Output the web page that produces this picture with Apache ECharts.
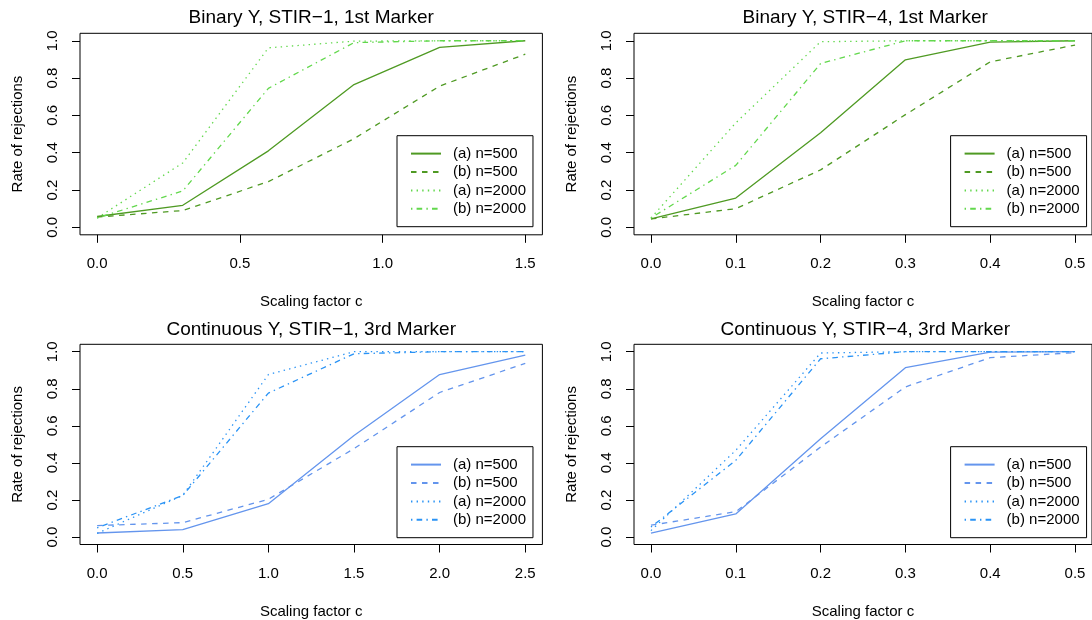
<!DOCTYPE html>
<html>
<head>
<meta charset="utf-8">
<title>Rate of rejections vs scaling factor</title>
<script src="https://cdn.jsdelivr.net/npm/echarts@6/dist/echarts.min.js"></script>
<style>
  html, body { margin: 0; padding: 0; background: #fff; }
  #chart { width: 1092px; height: 620px; }
</style>
</head>
<body>
<div id="chart"></div>
<script>
// ---- data ----
const panelTitles = [
  'Binary Y, STIR\u22121, 1st Marker',
  'Binary Y, STIR\u22124, 1st Marker',
  'Continuous Y, STIR\u22121, 3rd Marker',
  'Continuous Y, STIR\u22124, 3rd Marker'
];
const seriesLabels = ['(a) n=500', '(b) n=500', '(a) n=2000', '(b) n=2000'];

// scaling factor values (x) per panel
const xBinaryStir1 = [0, 0.3, 0.6, 0.9, 1.2, 1.5];
const xBinaryStir4 = [0, 0.1, 0.2, 0.3, 0.4, 0.5];
const xContStir1 = [0, 0.5, 1.0, 1.5, 2.0, 2.5];
const xContStir4 = [0, 0.1, 0.2, 0.3, 0.4, 0.5];

// tick values
const xTicksBinaryStir1 = [0, 0.5, 1.0, 1.5];
const xTicksStir4 = [0, 0.1, 0.2, 0.3, 0.4, 0.5];
const xTicksContStir1 = [0, 0.5, 1.0, 1.5, 2.0, 2.5];
const yTicks = [0, 0.2, 0.4, 0.6, 0.8, 1.0];

// rejection rates
const binStir1A500  = [0.058, 0.118, 0.41, 0.765, 0.965, 1.0];
const binStir1B500  = [0.055, 0.09, 0.245, 0.475, 0.757, 0.928];
const binStir1A2000 = [0.05, 0.345, 0.962, 0.998, 1.0, 1.0];
const binStir1B2000 = [0.05, 0.195, 0.745, 0.99, 1.0, 1.0];

const binStir4A500  = [0.045, 0.157, 0.507, 0.898, 0.993, 1.0];
const binStir4B500  = [0.045, 0.1, 0.308, 0.604, 0.887, 0.977];
const binStir4A2000 = [0.05, 0.56, 0.995, 1.0, 1.0, 1.0];
const binStir4B2000 = [0.05, 0.332, 0.878, 1.0, 1.0, 1.0];

const contStir1A500  = [0.022, 0.04, 0.18, 0.548, 0.877, 0.982];
const contStir1B500  = [0.062, 0.078, 0.204, 0.477, 0.78, 0.937];
const contStir1A2000 = [0.02, 0.225, 0.877, 1.0, 1.0, 1.0];
const contStir1B2000 = [0.05, 0.224, 0.777, 0.989, 1.0, 1.0];

const contStir4A500  = [0.021, 0.125, 0.53, 0.914, 0.998, 1.0];
const contStir4B500  = [0.064, 0.137, 0.486, 0.81, 0.968, 0.995];
const contStir4A2000 = [0.035, 0.468, 0.993, 1.0, 1.0, 1.0];
const contStir4B2000 = [0.054, 0.414, 0.962, 1.0, 1.0, 1.0];

// ---- layout and styles ----
const FONT = '"Liberation Sans", Arial, Helvetica, sans-serif';
const greenDark = '#4f9a23', greenLight = '#62d84c';
const blueDark = '#6495ed', blueLight = '#2a93f5';

const panels = [
  { key: 'p1', x: xBinaryStir1, xTicks: xTicksBinaryStir1, ys: [binStir1A500, binStir1B500, binStir1A2000, binStir1B2000],
    colors: [greenDark, greenDark, greenLight, greenLight], grid: { left: 80, top: 33.3 }, legend: { left: 397, top: 135.7 } },
  { key: 'p2', x: xBinaryStir4, xTicks: xTicksStir4, ys: [binStir4A500, binStir4B500, binStir4A2000, binStir4B2000],
    colors: [greenDark, greenDark, greenLight, greenLight], grid: { left: 634, top: 33.3 }, legend: { left: 950.6, top: 135.7 } },
  { key: 'p3', x: xContStir1, xTicks: xTicksContStir1, ys: [contStir1A500, contStir1B500, contStir1A2000, contStir1B2000],
    colors: [blueDark, blueDark, blueLight, blueLight], grid: { left: 80, top: 344.3 }, legend: { left: 397, top: 446.7 } },
  { key: 'p4', x: xContStir4, xTicks: xTicksStir4, ys: [contStir4A500, contStir4B500, contStir4A2000, contStir4B2000],
    colors: [blueDark, blueDark, blueLight, blueLight], grid: { left: 634, top: 344.3 }, legend: { left: 950.6, top: 446.7 } }
];
const GRID_W = 462.4, GRID_H = 201.5;
const dashes = ['solid', [5.5, 5.5], [1.4, 4.2], [1.4, 4.2, 5.6, 4.2]];

const grids = [], xAxes = [], yAxes = [], series = [], legends = [], titles = [];

panels.forEach((p, i) => {
  grids.push({
    left: p.grid.left, top: p.grid.top, width: GRID_W, height: GRID_H,
    show: true, borderColor: '#000', borderWidth: 1, backgroundColor: 'transparent'
  });
  const xMin = Math.min(...p.x), xMax = Math.max(...p.x);
  const pad = (xMax - xMin) * 0.04;
  xAxes.push({
    type: 'value', gridIndex: i, min: xMin - pad, max: xMax + pad,
    name: 'Scaling factor c', nameLocation: 'middle', nameGap: 59.5,
    nameTextStyle: { fontFamily: FONT, fontSize: 15, color: '#000' },
    axisLine: { show: false, onZero: false },
    axisTick: { show: true, length: 8, inside: false, lineStyle: { color: '#000', width: 1 }, customValues: p.xTicks },
    axisLabel: { fontFamily: FONT, fontSize: 15, color: '#000', margin: 22, customValues: p.xTicks,
      formatter: v => v.toFixed(1) },
    splitLine: { show: false }
  });
  yAxes.push({
    type: 'value', gridIndex: i, min: -0.04, max: 1.04,
    name: 'Rate of rejections', nameLocation: 'middle', nameGap: 55, nameRotate: 90,
    nameTextStyle: { fontFamily: FONT, fontSize: 15, color: '#000' },
    axisLine: { show: false, onZero: false },
    axisTick: { show: true, length: 8, inside: false, lineStyle: { color: '#000', width: 1 }, customValues: yTicks },
    axisLabel: { fontFamily: FONT, fontSize: 15, color: '#000', margin: 20, rotate: 90, customValues: yTicks,
      formatter: v => v.toFixed(1) },
    splitLine: { show: false }
  });
  const names = [];
  seriesLabels.forEach((label, k) => {
    const name = p.key + '|' + label;
    names.push(name);
    series.push({
      type: 'line', name: name, xAxisIndex: i, yAxisIndex: i,
      data: p.x.map((xv, j) => [xv, p.ys[k][j]]),
      symbol: 'none', showSymbol: false,
      lineStyle: { color: p.colors[k], width: 1.3, type: dashes[k], cap: 'butt' },
      itemStyle: { color: p.colors[k] },
      emphasis: { disabled: true },
      z: 2
    });
  });
  legends.push({
    data: names, orient: 'vertical', left: p.legend.left, top: p.legend.top,
    selectedMode: false,
    formatter: n => n.split('|')[1],
    itemWidth: 30, itemHeight: 14, itemGap: 3.4,
    padding: [10.4, 7, 10.4, 13],
    borderColor: '#000', borderWidth: 1, borderRadius: 0, backgroundColor: '#fff',
    itemStyle: { opacity: 0 },
    textStyle: { fontFamily: FONT, fontSize: 15, color: '#000', padding: [0, 0, 0, 7] }
  });
  titles.push({
    text: panelTitles[i],
    left: p.grid.left + GRID_W / 2, top: i < 2 ? 8.3 : 320.5,
    textAlign: 'center', padding: 0,
    textStyle: { fontFamily: FONT, fontSize: 19, fontWeight: 'normal', color: '#000' }
  });
});

const chart = echarts.init(document.getElementById('chart'), null, { renderer: 'canvas' });
chart.setOption({
  animation: false,
  backgroundColor: '#fff',
  title: titles,
  grid: grids,
  xAxis: xAxes,
  yAxis: yAxes,
  legend: legends,
  series: series
});
</script>
</body>
</html>
